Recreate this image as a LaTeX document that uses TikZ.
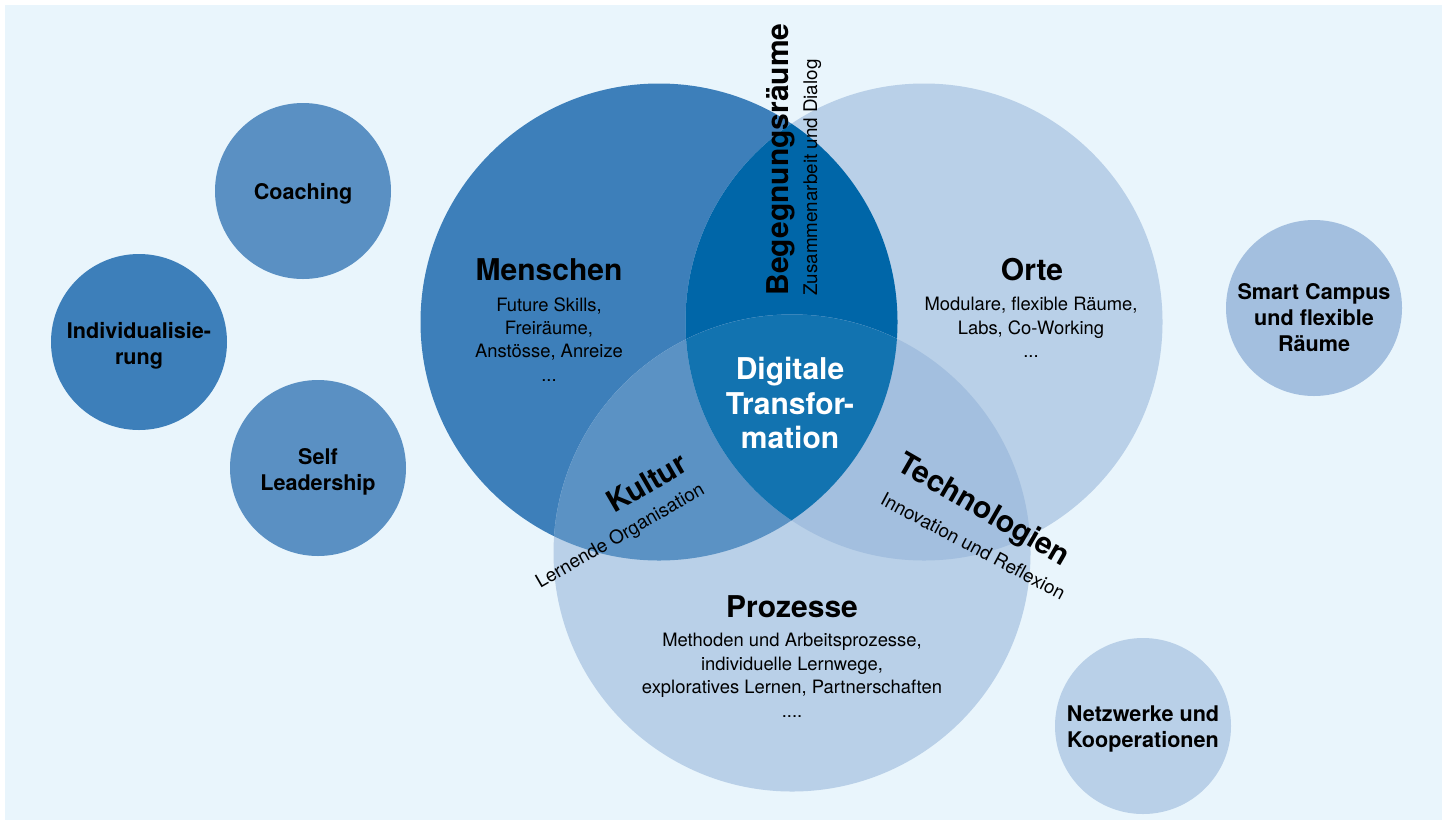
\documentclass[tikz,border=0pt]{standalone}
\usepackage{fontspec}
\setmainfont{TeX Gyre Heros}

\definecolor{bgblue}{HTML}{E9F5FC}
\definecolor{menschblue}{HTML}{3D7FBA}
\definecolor{paleblue}{HTML}{B9D0E8}
\definecolor{meetblue}{HTML}{0066A8}
\definecolor{kulturblue}{HTML}{5B92C4}
\definecolor{techblue}{HTML}{A3BFDF}
\definecolor{coreblue}{HTML}{1273B0}
\definecolor{midblue}{HTML}{5A90C3}

\begin{document}
\begin{tikzpicture}[x=0.5pt, y=-0.5pt,
    bigcircle/.style={circle, inner sep=0pt, minimum size=238.5pt},
    smallcircle/.style={circle, inner sep=0pt, minimum size=88pt},
    smalltext/.style={inner sep=0pt, align=center, font=\fontsize{10.8}{13}\selectfont\bfseries},
    areatitle/.style={anchor=base, inner sep=0pt, font=\fontsize{15}{17.5}\selectfont\bfseries},
    areatext/.style={anchor=north, inner sep=0pt, align=center, font=\fontsize{9.2}{11.7}\selectfont},
    overlaptext/.style={anchor=base, inner sep=0pt, font=\fontsize{9.4}{11}\selectfont}]

    \useasboundingbox (0,0) rectangle (1450,820);
    \fill[bgblue] (5,5) rectangle (1442,820);

    % ================= VENN (three areas) =================
    % 1. Main circles
    \node[bigcircle, fill=menschblue] (menschen) at (659,322) {};
    \node[bigcircle, fill=paleblue]   (orte)     at (924,322) {};
    \node[bigcircle, fill=paleblue]   (prozesse) at (792,553) {};

    % 2. Overlaps
    \begin{scope}
        \clip (menschen.center) circle[radius=119.25pt];
        \fill[meetblue] (orte.center) circle[radius=119.25pt];
        \fill[kulturblue] (prozesse.center) circle[radius=119.25pt];
    \end{scope}
    \begin{scope}
        \clip (orte.center) circle[radius=119.25pt];
        \fill[techblue] (prozesse.center) circle[radius=119.25pt];
    \end{scope}
    \begin{scope}
        \clip (menschen.center) circle[radius=119.25pt];
        \clip (orte.center) circle[radius=119.25pt];
        \fill[coreblue] (prozesse.center) circle[radius=119.25pt];
    \end{scope}

    % 3. Area labels
    \node[areatitle] (menschen_t) at (549,280) {Menschen};
    \node[areatext]  (menschen_s) at (549,297) {Future Skills,\\Freiräume,\\Anstösse, Anreize\\...};

    \node[areatitle] (orte_t) at (1032,280) {Orte};
    \node[areatext]  (orte_s) at (1031,297) {Modulare, flexible Räume,\\Labs, Co-Working\\...};

    \node[areatitle] (prozesse_t) at (792,617) {Prozesse};
    \node[areatext]  (prozesse_s) at (792,633) {Methoden und Arbeitsprozesse,\\individuelle Lernwege,\\exploratives Lernen, Partnerschaften\\....};

    \node[anchor=north, inner sep=0pt, align=center, white,
          font=\fontsize{15}{17.3}\selectfont\bfseries] (digital) at (790,357) {Digitale\\Transfor-\\mation};

    % 4. Overlap labels (rotated)
    \node[areatitle, anchor=base west, rotate=90]   (begegnung) at (788,296) {Begegnungsräume};
    \node[overlaptext, anchor=base west, rotate=90] (dialog)    at (817,296) {Zusammenarbeit und Dialog};

    \node[areatitle, rotate=30]   (kultur)   at (652,492) {Kultur};
    \node[overlaptext, rotate=30] (lernende) at (623,541) {Lernende Organisation};

    \node[areatitle, rotate=-30]   (technik)   at (979,518) {Technologien};
    \node[overlaptext, rotate=-28] (reflexion) at (970,552) {Innovation und Reflexion};

    % ================= SATELLITES =================
    \node[smallcircle, fill=midblue]    (coaching) at (303,191) {};
    \node[smallcircle, fill=menschblue] (indiv)    at (139,342) {};
    \node[smallcircle, fill=midblue]    (self)     at (318,468) {};
    \node[smallcircle, fill=techblue]   (campus)   at (1314,308) {};
    \node[smallcircle, fill=paleblue]   (netz)     at (1143,726) {};

    \node[smalltext] (coaching_t) at (303,194) {Coaching};
    \node[smalltext] (indiv_t)    at (139,346) {Individualisie-\\rung};
    \node[smalltext] (self_t)     at (318,472) {Self\\Leadership};
    \node[smalltext] (campus_t)   at (1314,318) {Smart Campus\\und flexible\\Räume};
    \node[smalltext] (netz_t)     at (1143,729) {Netzwerke und\\Kooperationen};

\end{tikzpicture}
\end{document}
